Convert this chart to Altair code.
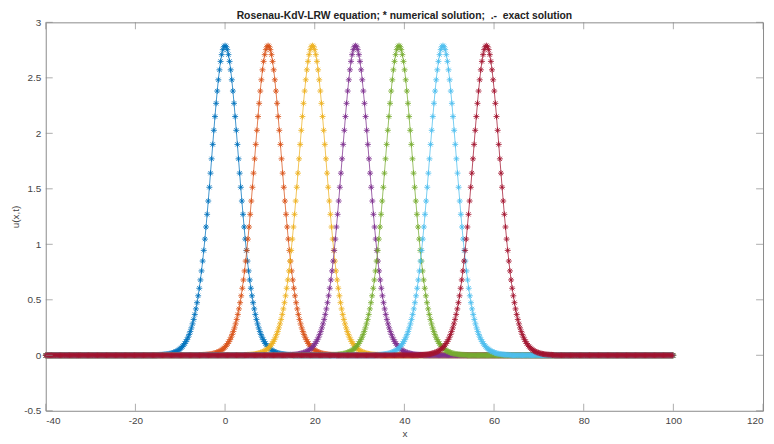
import altair as alt
import pandas as pd

# Peak positions (x) of the seven solitary waves
centers = [0.0, 9.6, 19.5, 29.1, 38.8, 48.6, 58.3]
wave_names = ["t1", "t2", "t3", "t4", "t5", "t6", "t7"]
colors = ["#0072BD", "#D95319", "#EDB120", "#7E2F8E", "#77AC30", "#4DBEEE", "#A2142F"]

# Half profile of one wave, u at |x - centre| = 0, 0.25, 0.5, ...
grid_step = 0.25
profile = [2.790, 2.781, 2.754, 2.709, 2.648, 2.572, 2.482, 2.381, 2.270, 2.151,
           2.027, 1.900, 1.770, 1.641, 1.514, 1.390, 1.270, 1.156, 1.047, 0.945,
           0.849, 0.760, 0.679, 0.604, 0.536, 0.474, 0.418, 0.368, 0.323, 0.283,
           0.247, 0.215, 0.188, 0.163, 0.141, 0.123, 0.106, 0.092, 0.079, 0.068,
           0.059, 0.051, 0.043, 0.037, 0.032, 0.028, 0.024, 0.020, 0.017, 0.015,
           0.013, 0.011, 0.009, 0.008, 0.007, 0.006, 0.005, 0.004, 0.004, 0.003,
           0.003]
x_start, x_end = -40.0, 100.0

x_ticks = [-40, -20, 0, 20, 40, 60, 80, 100, 120]
y_ticks = [-0.5, 0, 0.5, 1, 1.5, 2, 2.5, 3]

rows = []
order = 0
for name, c in zip(wave_names, centers):
    k_lo = int(round((x_start - c) / grid_step))
    k_hi = int(round((x_end - c) / grid_step))
    for k in range(k_lo, k_hi + 1):
        x = c + k * grid_step
        if x < x_start - 1e-9 or x > x_end + 1e-9:
            continue
        u = profile[abs(k)] if abs(k) < len(profile) else 0.0
        rows.append({"x": x, "u": u, "wave": name, "ord": order})
        order += 1
df = pd.DataFrame(rows)

axis_col = "#8a8a8a"
label_col = "#444444"
font = "Liberation Sans"

xs = alt.Scale(domain=[-40, 120], nice=False, zero=False)
ys = alt.Scale(domain=[-0.5, 3], nice=False, zero=False)
cs = alt.Scale(domain=wave_names, range=colors)

base = alt.Chart(df)

lines = base.mark_line(strokeWidth=1, opacity=0.75, clip=True).encode(
    x=alt.X("x:Q", scale=xs,
            axis=alt.Axis(values=x_ticks, title="x", ticks=False, grid=False,
                          labelPadding=5, titlePadding=3, labelExpr="datum.value + ''")),
    y=alt.Y("u:Q", scale=ys,
            axis=alt.Axis(values=y_ticks, title="u(x,t)", ticks=False, grid=False,
                          labelPadding=5, titlePadding=3, labelExpr="datum.value + ''")),
    color=alt.Color("wave:N", scale=cs, legend=None),
    detail="wave:N",
    order="ord:Q",
)

star = "M-1,0L1,0M0,-1L0,1M-0.7,-0.7L0.7,0.7M-0.7,0.7L0.7,-0.7"
points = base.mark_point(shape=star, size=36, filled=False, strokeWidth=0.85, opacity=1).encode(
    x=alt.X("x:Q", scale=xs),
    y=alt.Y("u:Q", scale=ys),
    color=alt.Color("wave:N", scale=cs, legend=None),
    order="ord:Q",
)

tl = 7
xt = pd.DataFrame({"t": x_ticks})
yt = pd.DataFrame({"t": y_ticks})
bottom_ticks = alt.Chart(xt).mark_tick(orient="vertical", size=tl, thickness=1, color=axis_col, yOffset=-tl / 2).encode(
    x=alt.X("t:Q", scale=xs), y=alt.datum(-0.5))
top_ticks = alt.Chart(xt).mark_tick(orient="vertical", size=tl, thickness=1, color=axis_col, yOffset=tl / 2).encode(
    x=alt.X("t:Q", scale=xs), y=alt.datum(3))
left_ticks = alt.Chart(yt).mark_tick(orient="horizontal", size=tl, thickness=1, color=axis_col, xOffset=tl / 2).encode(
    y=alt.Y("t:Q", scale=ys), x=alt.datum(-40))
right_ticks = alt.Chart(yt).mark_tick(orient="horizontal", size=tl, thickness=1, color=axis_col, xOffset=-tl / 2).encode(
    y=alt.Y("t:Q", scale=ys), x=alt.datum(120))

title_text = "Rosenau-KdV-LRW equation; * numerical solution;\u00a0 .-\u00a0 exact solution"

chart = alt.layer(lines, points, bottom_ticks, top_ticks, left_ticks, right_ticks).properties(
    width=722,
    height=391,
    autosize=alt.AutoSizeParams(type="none"),
    padding={"left": 38, "top": 13, "right": 3, "bottom": 30},
    title=alt.Title(title_text,
                    fontSize=10.4, fontWeight="bold", font=font, color="#222222", offset=2, dy=6),
).configure_view(
    stroke=axis_col, strokeWidth=1
).configure_axis(
    domain=False, labelFont=font, titleFont=font, labelFontSize=10, titleFontSize=10,
    labelColor=label_col, titleColor=label_col, titleFontWeight="normal",
)

chart.save("out.html", embed_options={"renderer": "svg", "actions": False})
